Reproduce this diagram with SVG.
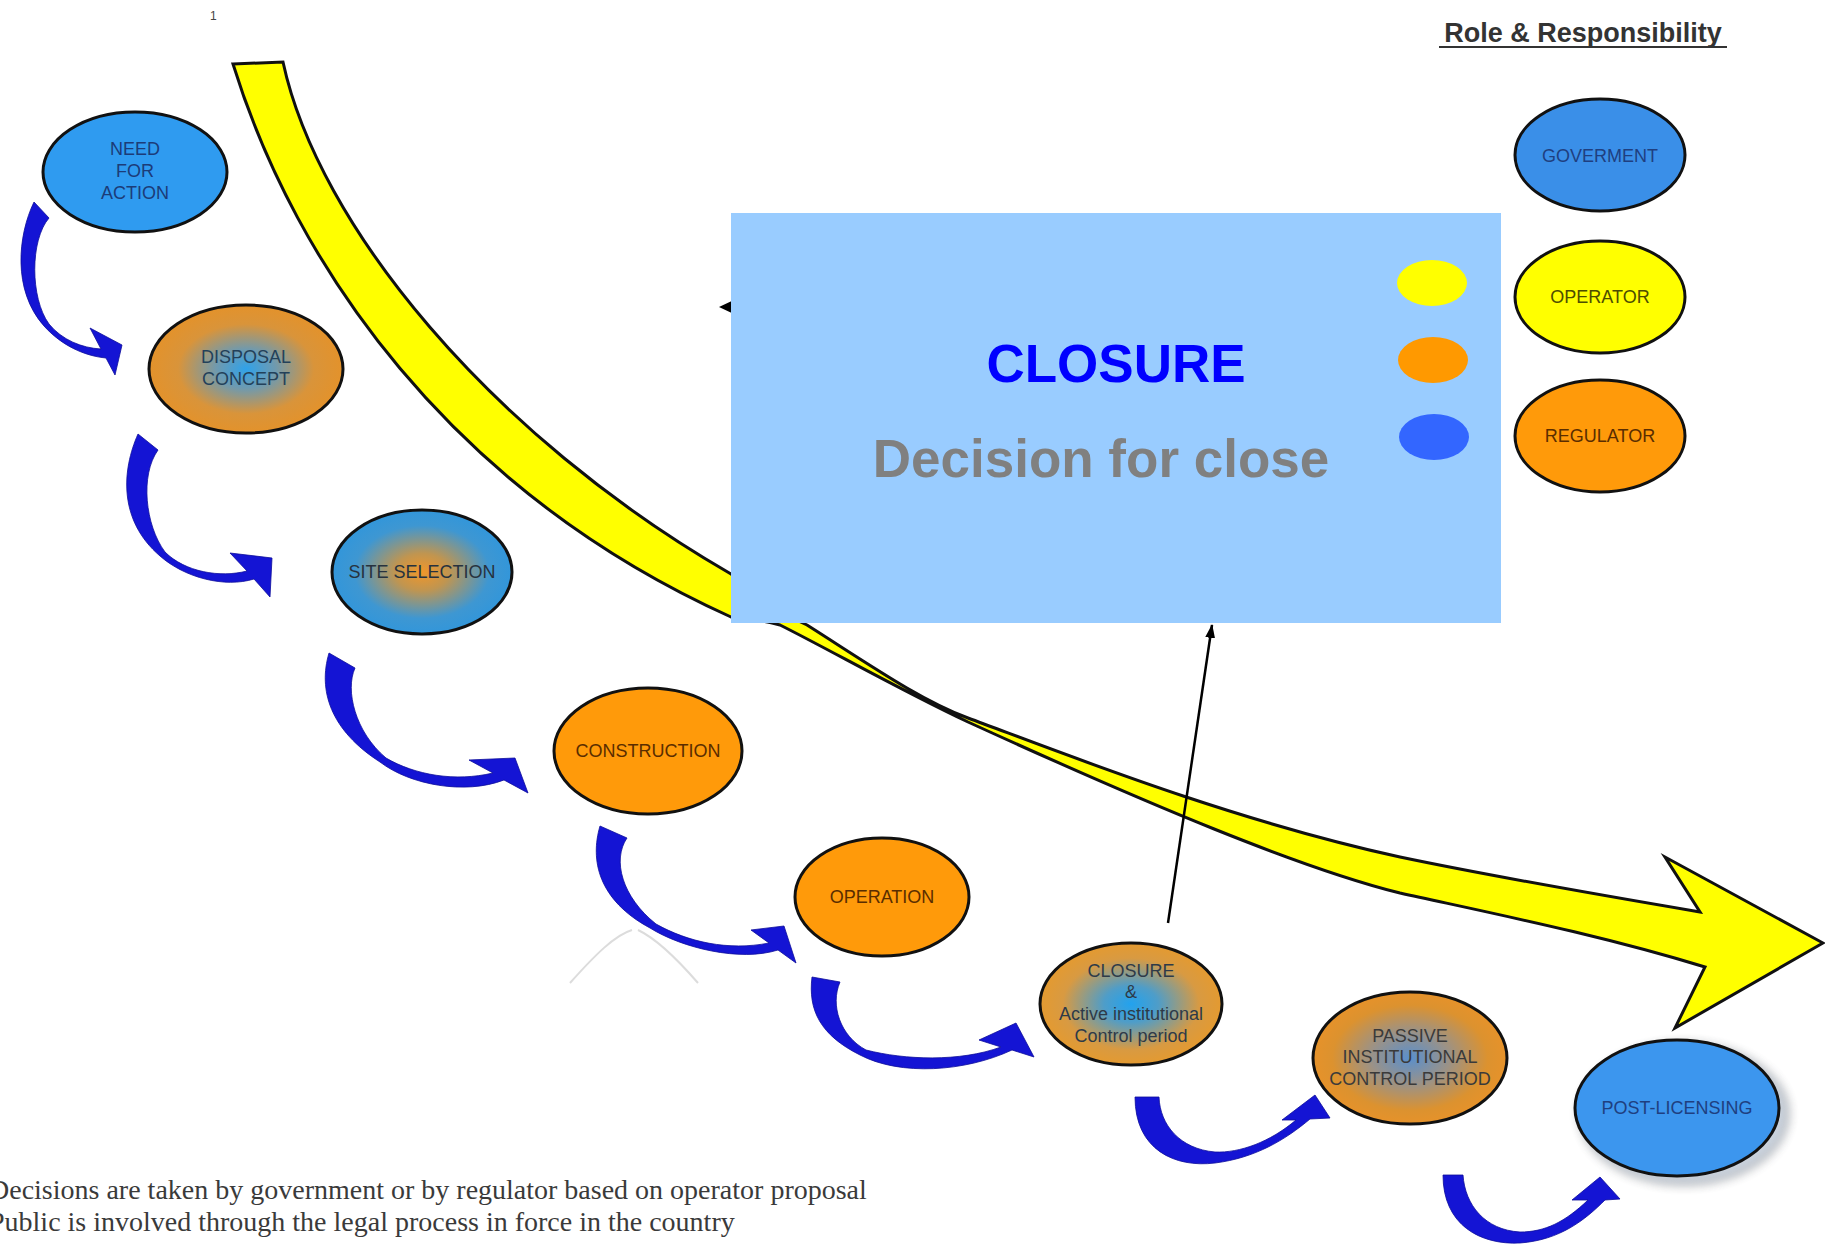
<svg xmlns="http://www.w3.org/2000/svg" width="1825" height="1255" viewBox="0 0 1825 1255">
<defs>
<style>
.node ellipse{stroke:#111;stroke-width:3}
.lbl{font-family:"Liberation Sans",Arial,sans-serif;font-size:18px;text-anchor:middle}
.barrow{fill:#1414d4;stroke:#0c0c9a;stroke-width:0.8}
.ghost{fill:none;stroke:#dcdcdc;stroke-width:2}
</style>
<radialGradient id="gDisp" cx="50%" cy="50%" r="50%">
<stop offset="0" stop-color="#2fa2ea"/><stop offset="0.3" stop-color="#6e9ab0"/><stop offset="0.7" stop-color="#d9943a"/><stop offset="1" stop-color="#e3922b"/>
</radialGradient>
<radialGradient id="gSite" cx="50%" cy="50%" r="50%">
<stop offset="0" stop-color="#f0962a"/><stop offset="0.3" stop-color="#c09550"/><stop offset="0.75" stop-color="#3e97d2"/><stop offset="1" stop-color="#3296da"/>
</radialGradient>
<radialGradient id="gClos" cx="50%" cy="50%" r="50%">
<stop offset="0" stop-color="#22a2ee"/><stop offset="0.3" stop-color="#4f9dc8"/><stop offset="0.75" stop-color="#d89a42"/><stop offset="1" stop-color="#e49a30"/>
</radialGradient>
<radialGradient id="gPass" cx="50%" cy="50%" r="50%">
<stop offset="0" stop-color="#5a8fcc"/><stop offset="0.4" stop-color="#9a9288"/><stop offset="0.8" stop-color="#dc922f"/><stop offset="1" stop-color="#e6922a"/>
</radialGradient>
<filter id="soft" x="-20%" y="-20%" width="140%" height="140%"><feGaussianBlur stdDeviation="5"/></filter>
<marker id="ah" viewBox="0 0 14 10" refX="13" refY="5" markerWidth="14" markerHeight="10" markerUnits="userSpaceOnUse" orient="auto"><path d="M0,0 L14,5 L0,10 Z" fill="#000"/></marker>
</defs>

<rect width="1825" height="1255" fill="#ffffff"/>

<text x="210" y="20" font-family="Liberation Sans, Arial, sans-serif" font-size="12" fill="#444">1</text>

<g id="timeline">
<path d="M 233,64 L 283,62 C 318,225 490,435 731,574 C 760,595 780,612 807,625 C 870,665 920,700 968,718 C 1060,752 1230,820 1400,857 C 1500,878 1600,895 1700,912 L 1665,857 L 1823,943 L 1675,1028 L 1705,967 C 1600,935 1500,915 1400,893 C 1300,868 1150,805 968,722 C 900,690 830,650 780,625 C 760,620 745,618 731,617 C 450,490 295,265 233,64 Z" fill="#ffff00" stroke="#111" stroke-width="3" stroke-linejoin="miter"/>
</g>

<path class="ghost" d="M 570,983 C 595,955 615,935 632,930"/>
<path class="ghost" d="M 638,930 C 655,938 678,960 698,983"/>

<g id="connectors">
<polygon points="719,307 736,299 731,307 736,315" fill="#000"/>
<path class="barrow" d="M 34,202 C 18,235 12,290 44,326 C 62,346 85,356 106,358 L 115,375 L 122,345 L 90,328 L 101,349 C 82,348 62,340 49,324 C 30,298 30,240 49,218 Z"/>
<path class="barrow" d="M 138,434 C 122,470 118,520 160,556 C 185,578 225,588 254,579 L 270,597 L 272,558 L 230,553 L 247,571 C 220,578 185,572 165,552 C 145,525 140,475 158,450 Z"/>
<path class="barrow" d="M 329,653 C 318,690 330,730 380,762 C 410,785 465,795 504,780 L 528,793 L 515,758 L 469,760 L 493,773 C 455,782 415,775 386,758 C 355,732 345,690 355,668 Z"/>
<path class="barrow" d="M 600,826 C 590,860 598,900 650,928 C 682,948 740,962 778,950 L 796,963 L 784,926 L 751,930 L 769,943 C 728,951 688,942 656,924 C 622,897 612,860 627,838 Z"/>
<path class="barrow" d="M 812,977 C 808,1010 820,1035 860,1055 C 900,1076 965,1072 1012,1050 L 1034,1057 L 1016,1023 L 979,1040 L 1001,1047 C 960,1062 905,1060 866,1050 C 840,1036 830,1005 840,982 Z"/>
<path class="barrow" d="M 1135,1097 C 1135,1150 1175,1168 1215,1163 C 1255,1158 1285,1140 1310,1119 L 1330,1118 L 1315,1095 L 1282,1120 L 1296,1120 C 1270,1142 1240,1153 1215,1152 C 1180,1149 1160,1125 1159,1097 Z"/>
<path class="barrow" d="M 1443,1175 C 1443,1225 1480,1245 1520,1243 C 1560,1240 1585,1220 1605,1200 L 1620,1199 L 1600,1177 L 1572,1200 L 1588,1200 C 1565,1222 1545,1232 1520,1232 C 1485,1230 1465,1205 1463,1175 Z"/>
</g>

<g id="callout">
<rect x="731" y="213" width="770" height="410" fill="#99ccff"/>
<text x="1116" y="382" font-family="Liberation Sans, Arial, sans-serif" font-size="53" font-weight="bold" fill="#0000ff" text-anchor="middle">CLOSURE</text>
<text x="1101" y="477" font-family="Liberation Sans, Arial, sans-serif" font-size="53" font-weight="bold" fill="#808080" text-anchor="middle">Decision for close</text>
<ellipse cx="1432" cy="283" rx="35" ry="23" fill="#ffff00"/>
<ellipse cx="1433" cy="360" rx="35" ry="23" fill="#ff9900"/>
<ellipse cx="1434" cy="437" rx="35" ry="23" fill="#3366ff"/>
</g>

<g id="link-closure">
<line x1="1168" y1="923" x2="1212" y2="625" stroke="#000" stroke-width="2.5" marker-end="url(#ah)"/>
</g>

<g id="node-need" class="node">
<ellipse cx="135" cy="172" rx="92" ry="60" fill="#2f9bf0"/>
<text class="lbl" fill="#1c3c78"><tspan x="135" y="155">NEED</tspan><tspan x="135" y="177">FOR</tspan><tspan x="135" y="199">ACTION</tspan></text>
</g>
<g id="node-disposal" class="node">
<ellipse cx="246" cy="369" rx="97" ry="64" fill="url(#gDisp)"/>
<text class="lbl" fill="#23415a"><tspan x="246" y="363">DISPOSAL</tspan><tspan x="246" y="385">CONCEPT</tspan></text>
</g>
<g id="node-site" class="node">
<ellipse cx="422" cy="572" rx="90" ry="62" fill="url(#gSite)"/>
<text class="lbl" x="422" y="578" fill="#27323e">SITE SELECTION</text>
</g>
<g id="node-construction" class="node">
<ellipse cx="648" cy="751" rx="94" ry="63" fill="#ff9a0a"/>
<text class="lbl" x="648" y="757" fill="#5a2d00">CONSTRUCTION</text>
</g>
<g id="node-operation" class="node">
<ellipse cx="882" cy="897" rx="87" ry="59" fill="#ff9a0a"/>
<text class="lbl" x="882" y="903" fill="#5a2d00">OPERATION</text>
</g>
<g id="node-closure" class="node">
<ellipse cx="1131" cy="1004" rx="91" ry="61" fill="url(#gClos)"/>
<text class="lbl" fill="#2e3a48"><tspan x="1131" y="977">CLOSURE</tspan><tspan x="1131" y="998">&amp;</tspan><tspan x="1131" y="1020">Active institutional</tspan><tspan x="1131" y="1042">Control period</tspan></text>
</g>
<g id="node-passive" class="node">
<ellipse cx="1410" cy="1058" rx="97" ry="66" fill="url(#gPass)"/>
<text class="lbl" fill="#3a3a3a"><tspan x="1410" y="1042">PASSIVE</tspan><tspan x="1410" y="1063">INSTITUTIONAL</tspan><tspan x="1410" y="1085">CONTROL PERIOD</tspan></text>
</g>
<g id="node-post" class="node">
<ellipse cx="1684" cy="1114" rx="103" ry="69" fill="#b8c4d4" stroke="none" filter="url(#soft)" opacity="0.7"/>
<ellipse cx="1677" cy="1108" rx="102" ry="68" fill="#3c96ee"/>
<text class="lbl" x="1677" y="1114" fill="#1f3f80">POST-LICENSING</text>
</g>

<g id="legend">
<text x="1583" y="42" font-family="Liberation Sans, Arial, sans-serif" font-size="27" font-weight="bold" fill="#333" text-anchor="middle">Role &amp; Responsibility</text>
<line x1="1439" y1="47" x2="1727" y2="47" stroke="#333" stroke-width="2"/>
<g id="role-government" class="node">
<ellipse cx="1600" cy="155" rx="85" ry="56" fill="#3a8fe8"/>
<text class="lbl" x="1600" y="162" fill="#1f3f80">GOVERMENT</text>
</g>
<g id="role-operator" class="node">
<ellipse cx="1600" cy="297" rx="85" ry="56" fill="#ffff00"/>
<text class="lbl" x="1600" y="303" fill="#4d4d00">OPERATOR</text>
</g>
<g id="role-regulator" class="node">
<ellipse cx="1600" cy="436" rx="85" ry="56" fill="#ff9a0a"/>
<text class="lbl" x="1600" y="442" fill="#5a2d00">REGULATOR</text>
</g>
</g>

<g id="footnote" font-family="Liberation Serif, Times New Roman, serif" font-size="28" fill="#3a3a3a">
<text x="-11" y="1199">Decisions are taken by government or by regulator based on operator proposal</text>
<text x="-11" y="1231">Public is involved through the legal process in force in the country</text>
</g>
</svg>
